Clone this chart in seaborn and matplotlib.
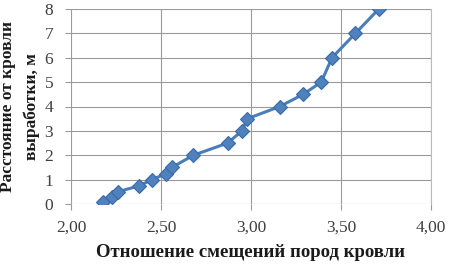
import matplotlib
matplotlib.use("Agg")
import matplotlib.pyplot as plt
import seaborn as sns
import pandas as pd
from matplotlib.ticker import FuncFormatter, MultipleLocator

ratio = [2.18, 2.23, 2.26, 2.38, 2.45, 2.53, 2.56, 2.68, 2.87, 2.95, 2.98, 3.16, 3.29, 3.39, 3.45, 3.58, 3.71]
distance = [0.1, 0.3, 0.5, 0.75, 1.0, 1.25, 1.5, 2.0, 2.5, 3.0, 3.5, 4.0, 4.5, 5.0, 6.0, 7.0, 8.0]
x_label = "Отношение смещений пород кровли"
y_label = "Расстояние от кровли\nвыработки, м"

df = pd.DataFrame({"ratio": ratio, "distance": distance})

sns.set_theme(style="white")
plt.rcParams["font.family"] = ["Liberation Serif", "DejaVu Serif"]

fig = plt.figure(figsize=(4.5, 2.66), dpi=100)
ax = fig.add_axes([71/450, 1-204/266, 360/450, 195/266])

sns.lineplot(data=df, x="ratio", y="distance", ax=ax, sort=False,
             color="#4A7EBB", linewidth=2.2, marker="D", markersize=7,
             markerfacecolor="#4F81BD", markeredgecolor="#3A6AA8", markeredgewidth=0.8)

ax.set_xlim(2.0, 4.0)
ax.set_ylim(0, 8)
ax.xaxis.set_major_locator(MultipleLocator(0.5))
ax.yaxis.set_major_locator(MultipleLocator(1))
ax.xaxis.set_major_formatter(FuncFormatter(lambda v, p: f"{v:.2f}".replace(".", ",")))
ax.yaxis.set_major_formatter(FuncFormatter(lambda v, p: f"{v:.0f}"))

ax.grid(True, color="#9A9A9A", linewidth=0.8)
ax.set_axisbelow(True)
for s in ["top", "left", "bottom"]:
    ax.spines[s].set_visible(False)
ax.spines["right"].set_color("#BBBBBB")
ax.spines["right"].set_linewidth(0.8)

ax.tick_params(axis="x", length=4.3, color="#9A9A9A", width=0.8, labelsize=12.5, labelcolor="#404040", pad=7, bottom=True)
ax.tick_params(axis="y", length=4.3, color="#9A9A9A", width=0.8, labelsize=12.5, labelcolor="#404040", pad=8.5, left=True)

ax.set_xlabel(x_label, fontsize=13.5, fontweight="bold", color="#1A1A1A")
ax.set_ylabel(y_label, fontsize=12.5, fontweight="bold", color="#1A1A1A", linespacing=1.6)
ax.xaxis.set_label_coords(0.5, -0.25)
ax.yaxis.set_label_coords(-0.143, 0.5)
ax.xaxis.label.set_va("center")
ax.yaxis.label.set_va("center")

fig.savefig("out.png", dpi=100)
